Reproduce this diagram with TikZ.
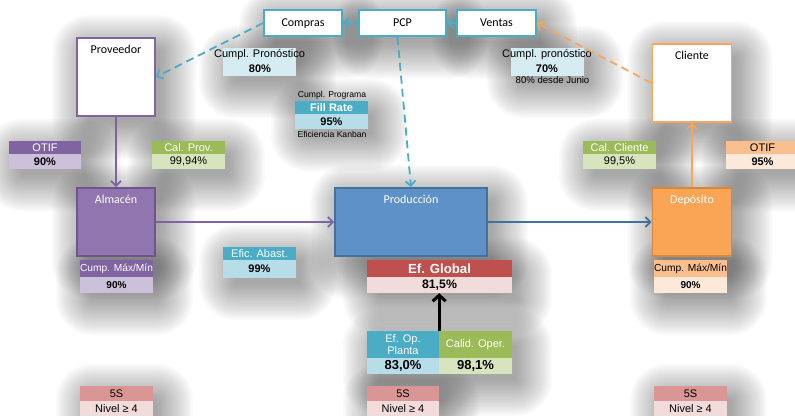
\documentclass[tikz,border=0pt]{standalone}
\usepackage{fontspec}
\setmainfont{Liberation Sans}
\newfontfamily\boxfont{Carlito}
\usetikzlibrary{arrows.meta,backgrounds}

\definecolor{cyanD}{HTML}{4BACC6}
\definecolor{cyanL}{HTML}{B7DEE8}
\definecolor{cyanXL}{HTML}{D6ECF3}
\definecolor{purpleD}{HTML}{8064A2}
\definecolor{purpleL}{HTML}{CCC0DA}
\definecolor{almFill}{HTML}{9175AE}
\definecolor{almLine}{HTML}{6F5590}
\definecolor{greenD}{HTML}{9BBB59}
\definecolor{greenL}{HTML}{D7E4BD}
\definecolor{redD}{HTML}{C0504D}
\definecolor{redL}{HTML}{F2DCDB}
\definecolor{rose}{HTML}{DA9694}
\definecolor{orangeD}{HTML}{FABF8F}
\definecolor{orangeL}{HTML}{FDE9D9}
\definecolor{depFill}{HTML}{F9A555}
\definecolor{depLine}{HTML}{D6883E}
\definecolor{cliLine}{HTML}{F8A65A}
\definecolor{prodFill}{HTML}{5D91C8}
\definecolor{prodLine}{HTML}{41719C}

\newcommand{\fs}[1]{\fontsize{#1}{#1}\selectfont}
% soft drop shadow: stacked translucent rectangles between two corner nodes
\newcommand{\softshade}[2]{%
  \foreach \k in {0,...,20}{%
    \pgfmathsetmacro\e{-4+1.8*\k}%
    \pgfmathsetmacro\r{\e+5}%
    \pgfmathsetmacro\xa{8-\e}\pgfmathsetmacro\ya{-10+\e}%
    \pgfmathsetmacro\xb{8+\e}\pgfmathsetmacro\yb{-10-\e}%
    \fill[black, fill opacity=0.019, rounded corners=\r pt]
      ([xshift=\xa pt, yshift=\ya pt]#1.north west) rectangle
      ([xshift=\xb pt, yshift=\yb pt]#2.south east);
  }}

\begin{document}
\begin{tikzpicture}[x=1pt,y=-1pt,
  unit/.style={draw, line width=1.8pt, inner sep=0pt, align=center,
    font=\boxfont\fs{12}},
  small/.style={unit, fill=white, minimum height=26, text height=8pt, text depth=2pt},
  tall/.style={unit, text width=#1, text height=15pt, text depth=63pt},
  block/.style={unit, text width=#1, text height=15pt, text depth=53pt, text=white},
  cell/.style={inner sep=0pt, minimum width=73, align=center, font=\fs{11}},
  bcell/.style={cell, font=\bfseries\fs{11}},
  tiny/.style={inner sep=0pt, font=\fs{8.6}},
  flow/.style={line width=1.8pt, -{Straight Barb[length=5pt,width=10pt]}},
  flowdash/.style={flow, dash pattern=on 8pt off 5pt}
]
\useasboundingbox (0,0) rectangle (795,415);

% planning boxes
\node[small, draw=cyanD, minimum width=78] (compras) at (303,23) {Compras};
\node[small, draw=cyanD, minimum width=87] (pcp) at (402.5,23) {PCP};
\node[small, draw=cyanD, minimum width=79] (ventas) at (496.5,23) {Ventas};

% supply chain boxes
\node[tall=78pt, draw=purpleD, fill=white] (proveedor) at (116,77) {Proveedor};
\node[tall=79pt, draw=cliLine, fill=white] (cliente) at (692,83) {Cliente};
\node[block=78pt, draw=almLine, fill=almFill] (almacen) at (116,222) {Almacén};
\node[block=152pt, draw=prodLine, fill=prodFill] (produccion) at (411,222) {Producción};
\node[block=79pt, draw=depLine, fill=depFill] (deposito) at (692,222) {Depósito};

% forecast labels
\node[cell, fill=cyanXL, minimum height=28] (pronC) at (259.5,62) {};
\node[inner sep=0pt, font=\fs{11}] (pronCt) at (259.5,55) {Cumpl. Pronóstico};
\node[inner sep=0pt, font=\bfseries\fs{11}] (pronCv) at (260,68.5) {80\%};
\node[cell, fill=cyanXL, minimum height=28] (pronV) at (547,62) {};
\node[inner sep=0pt, font=\fs{11}] (pronVt) at (547,55) {Cumpl. pronóstico};
\node[inner sep=0pt, font=\bfseries\fs{11}] (pronVv) at (547,68.5) {70\%};
\node[inner sep=0pt, font=\fs{9.6}] (pronVn) at (552.5,80.5) {80\% desde Junio};

% fill rate
\node[tiny] (progT) at (332,95) {Cumpl. Programa};
\node[bcell, fill=cyanD, text=white, minimum height=13] (fillH) at (331.5,107.5) {Fill Rate};
\node[bcell, fill=cyanL, minimum height=15] (fillV) at (331.5,121.5) {95\%};
\node[tiny] (kanT) at (332,134) {Eficiencia Kanban};

% OTIF and quality
\node[cell, fill=purpleD, text=white, minimum width=72, minimum height=13] (otifPH) at (45,147.5) {OTIF};
\node[bcell, fill=purpleL, minimum width=72, minimum height=15] (otifPV) at (45,161.5) {90\%};
\node[cell, fill=greenD, text=white, minimum height=13] (calPH) at (188.5,147.5) {Cal. Prov.};
\node[cell, fill=greenL, minimum height=15] (calPV) at (188.5,161.5) {99,94\%};
\node[cell, fill=greenD, text=white, minimum height=13] (calCH) at (619.5,147.5) {Cal. Cliente};
\node[cell, fill=greenL, minimum height=15] (calCV) at (619.5,161.5) {99,5\%};
\node[cell, fill=orangeD, minimum height=13] (otifOH) at (762.5,147.5) {OTIF};
\node[bcell, fill=orangeL, minimum height=15] (otifOV) at (762.5,161.5) {95\%};

% supply efficiency
\node[cell, fill=cyanD, text=white, minimum height=13] (absH) at (259.5,253.5) {Efic. Abast.};
\node[bcell, fill=cyanL, minimum height=18] (absV) at (259.5,269) {99\%};

% max/min
\node[cell, fill=purpleD, text=white, minimum height=17, font=\fs{10.2}] (mmPH) at (116.5,268.5) {Cump. Máx/Mín};
\node[bcell, fill=purpleL, minimum height=16, font=\bfseries\fs{10}] (mmPV) at (116.5,285) {90\%};
\node[cell, fill=orangeD, minimum height=17, font=\fs{10.2}] (mmOH) at (690.5,268.5) {Cump. Máx/Mín};
\node[bcell, fill=orangeL, minimum height=16, font=\bfseries\fs{10}] (mmOV) at (690.5,285) {90\%};

% global efficiency
\node[cell, fill=redD, text=white, minimum width=145, minimum height=17, font=\bfseries\fs{13.2}] (globH) at (439.5,268.5) {Ef. Global};
\node[cell, fill=redL, minimum width=145, minimum height=16, font=\bfseries\fs{12.3}] (globV) at (439.5,285) {81,5\%};
\node[cell, fill=cyanD, text=white, minimum width=72, minimum height=27] (opH) at (403,344.5) {Ef. Op.\\[1pt]Planta};
\node[cell, fill=cyanL, minimum width=72, minimum height=16, font=\bfseries\fs{13}] (opV) at (403,366) {83,0\%};
\node[cell, fill=greenD, text=white, minimum height=27] (qoH) at (475.5,344.5) {Calid. Oper.};
\node[cell, fill=greenL, minimum height=16, font=\bfseries\fs{13}] (qoV) at (475.5,366) {98,1\%};

% 5S levels
\node[cell, fill=rose, minimum height=15] (s5aH) at (116.5,393.5) {5S};
\node[cell, fill=redL, minimum height=16] (s5aV) at (116.5,409) {Nivel ≥ 4};
\node[cell, fill=rose, minimum width=72, minimum height=15] (s5bH) at (403,393.5) {5S};
\node[cell, fill=redL, minimum width=72, minimum height=16] (s5bV) at (403,409) {Nivel ≥ 4};
\node[cell, fill=rose, minimum height=15] (s5cH) at (690.5,393.5) {5S};
\node[cell, fill=redL, minimum height=16] (s5cV) at (690.5,409) {Nivel ≥ 4};

% connectors
\draw[flow, cyanD] (pcp) -- (compras);
\draw[flow, cyanD] (ventas) -- (pcp);
\draw[flowdash, cyanD] (compras.west) -- (proveedor.east);
\draw[flowdash, cliLine] (cliente.west) -- (ventas.east);
\draw[flowdash, cyanD] ([xshift=-5pt]pcp.south) -- (produccion.north);
\draw[flow, purpleD] (proveedor) -- (almacen);
\draw[flow, purpleD] (almacen) -- (produccion);
\draw[flow, prodLine] (produccion) -- (deposito);
\draw[flow, cliLine] (deposito.north) -- (cliente.south);
\draw[line width=3pt, -{Straight Barb[length=6pt,width=13pt]}] (opH.north east) -- (opH.north east |- globV.south);

% soft shadows behind everything
\begin{scope}[on background layer]
  \foreach \a/\b in {compras/compras, pcp/pcp, ventas/ventas, proveedor/proveedor,
      cliente/cliente, almacen/almacen, produccion/produccion, deposito/deposito,
      pronC/pronC, pronV/pronV, fillH/fillV, otifPH/otifPV, calPH/calPV, calCH/calCV,
      otifOH/otifOV, absH/absV, mmPH/mmPV, mmOH/mmOV, globH/globV, opH/qoV,
      s5aH/s5aV, s5bH/s5bV, s5cH/s5cV}
    {\softshade{\a}{\b}}
\end{scope}
\end{tikzpicture}
\end{document}
